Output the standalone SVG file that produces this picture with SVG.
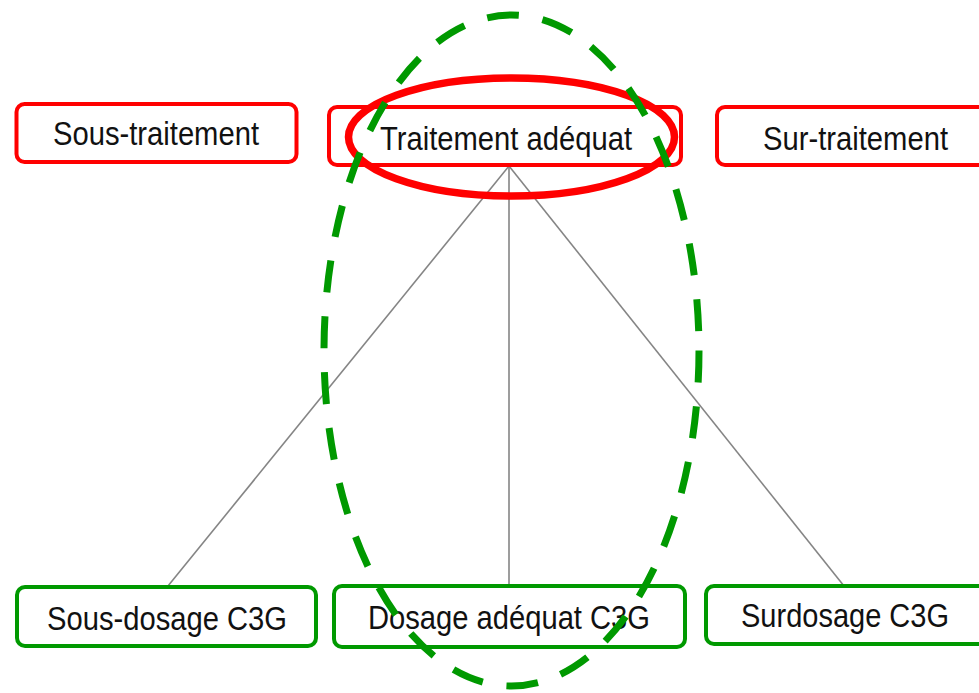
<svg xmlns="http://www.w3.org/2000/svg" width="979" height="693" viewBox="0 0 979 693">
  <style>
    .lbl { font-family: "Liberation Sans", Arial, sans-serif; font-size: 33px; fill: #111; }
    .redbox { fill: #fff; stroke: #ff0000; stroke-width: 4; }
    .greenbox { fill: #fff; stroke: #009900; stroke-width: 4; }
    .link { stroke: #858585; stroke-width: 1.6; fill: none; }
  </style>
  <rect width="979" height="693" fill="#fff"/>

  <!-- connectors from the middle treatment box down to the dosing boxes -->
  <g id="connectors">
    <line class="link" x1="509" y1="166" x2="168" y2="586"/>
    <line class="link" x1="509" y1="166" x2="509" y2="586"/>
    <line class="link" x1="509" y1="166" x2="844" y2="586"/>
  </g>

  <!-- treatment row -->
  <g id="sous-traitement">
    <rect class="redbox" x="16.5" y="104" width="280" height="58" rx="8"/>
    <text class="lbl" x="53" y="145" textLength="206" lengthAdjust="spacingAndGlyphs">Sous-traitement</text>
  </g>
  <g id="traitement-adequat">
    <rect class="redbox" x="329" y="107" width="352" height="58" rx="8"/>
    <text class="lbl" x="380" y="150" textLength="252" lengthAdjust="spacingAndGlyphs">Traitement adéquat</text>
  </g>
  <g id="sur-traitement">
    <rect class="redbox" x="717" y="107" width="290" height="58" rx="8"/>
    <text class="lbl" x="763" y="150" textLength="185" lengthAdjust="spacingAndGlyphs">Sur-traitement</text>
  </g>

  <!-- dosing row -->
  <g id="sous-dosage">
    <rect class="greenbox" x="17" y="587" width="299" height="59" rx="8"/>
    <text class="lbl" x="47" y="630" textLength="240" lengthAdjust="spacingAndGlyphs">Sous-dosage C3G</text>
  </g>
  <g id="dosage-adequat">
    <rect class="greenbox" x="334" y="586" width="351" height="61" rx="8"/>
    <text class="lbl" x="368" y="629" textLength="282" lengthAdjust="spacingAndGlyphs">Dosage adéquat C3G</text>
  </g>
  <g id="surdosage">
    <rect class="greenbox" x="706" y="586" width="300" height="58" rx="8"/>
    <text class="lbl" x="741" y="627" textLength="208" lengthAdjust="spacingAndGlyphs">Surdosage C3G</text>
  </g>

  <!-- highlight ellipses -->
  <g id="highlights">
    <ellipse id="red-ring" cx="511.5" cy="137" rx="163" ry="59" fill="none" stroke="#ff0000" stroke-width="7.5"/>
    <ellipse id="green-ring" cx="511.5" cy="350.5" rx="187.5" ry="335.5" fill="none" stroke="#009900" stroke-width="7" stroke-dasharray="32 24"/>
  </g>
</svg>
